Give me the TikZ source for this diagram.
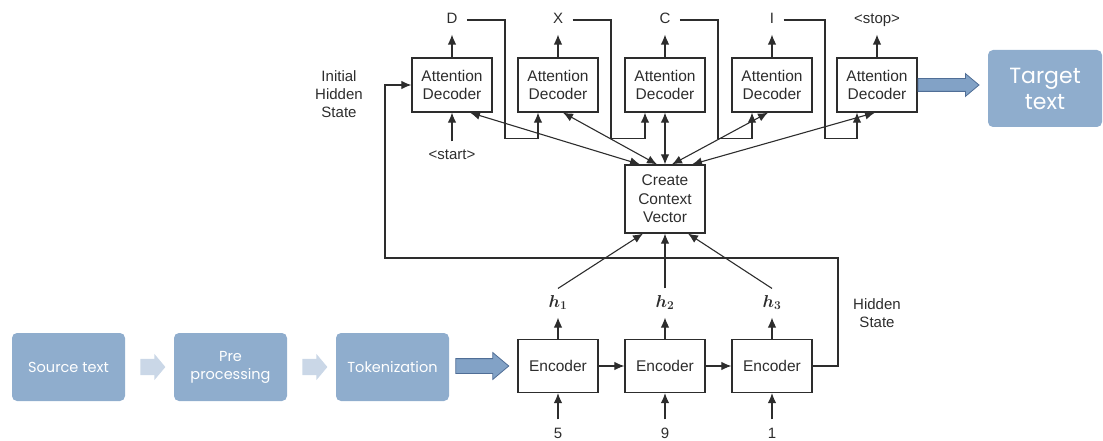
\documentclass[tikz,border=0pt]{standalone}
\usepackage{fontspec}
\setmainfont{Liberation Sans}
\newfontfamily\gothic{Poppins}
\usetikzlibrary{calc,shapes,arrows.meta}
\definecolor{boxblue}{RGB}{143,173,205}
\definecolor{paleblue}{RGB}{202,215,231}
\definecolor{arrowblue}{RGB}{130,162,198}
\definecolor{edgeblue}{RGB}{80,110,150}
\definecolor{ink}{RGB}{45,45,45}
\tikzset{
  >={Latex[length=10pt,width=8.5pt]},
  block/.style      = {shape=rectangle, draw=ink, line width=1.2pt,
                       minimum width=80pt, minimum height=54pt,
                       align=center, text=ink,
                       font=\fontsize{15.5}{18.5}\selectfont},
  txt/.style        = {align=center, text=ink,
                       font=\fontsize{15}{18}\selectfont},
  word/.style       = {txt, text height=11pt, text depth=3pt,
                       inner xsep=9pt, inner ysep=7pt},
  hstate/.style     = {word, font=\fontsize{17}{18}\selectfont\boldmath},
  stage/.style      = {shape=rectangle, rounded corners=5pt, fill=boxblue,
                       minimum width=113pt, minimum height=68pt,
                       text=white, align=center,
                       font=\gothic\fontsize{14.5}{18}\selectfont},
  bigarrow/.style   = {single arrow, draw=edgeblue, fill=arrowblue,
                       line width=0.8pt, inner sep=6pt,
                       single arrow head extend=5pt,
                       single arrow tip angle=80},
  stagearrow/.style = {single arrow, fill=paleblue, inner sep=7.5pt,
                       single arrow head extend=5pt,
                       single arrow tip angle=100,
                       minimum height=25pt}
}
\begin{document}
\begin{tikzpicture}[x=1pt, y=-1pt, ->, line width=1.1pt, draw=ink]
  \useasboundingbox (0,0) rectangle (1103,441);

  % source side
  \node[stage] (src) at (68.5,367)  {Source text};
  \node[stage] (pre) at (230.5,367) {Pre\\processing};
  \node[stage] (tok) at (392.5,367) {Tokenization};
  \node[stagearrow] (sa1) at ($(src.east)!0.5!(pre.west)$) {};
  \node[stagearrow] (sa2) at ($(pre.east)!0.5!(tok.west)$) {};

  % encoder
  \node[block, minimum height=53pt] (enc1) at (558,366) {Encoder};
  \node[block, minimum height=53pt] (enc2) at (665,366) {Encoder};
  \node[block, minimum height=53pt] (enc3) at (772,366) {Encoder};
  \foreach \k/\num in {1/5, 2/9, 3/1} {
    \node[hstate] (hv\k) at ($(enc\k)+(0,-63)$) {{$h_{\k}$}};
    \node[word] (inp\k) at ($(enc\k)+(0,68)$) {\num};
    \draw (inp\k.north) -- (enc\k.south);
    \draw (enc\k.north) -- (hv\k.south);
  }
  \draw (enc1.east) -- (enc2.west);
  \draw (enc2.east) -- (enc3.west);
  \node[bigarrow, minimum height=53pt, inner sep=7pt, single arrow head extend=6pt,
        anchor=tip] (inarrow) at ([xshift=-8pt]enc1.west) {};

  % context
  \node[block, minimum height=68pt] (ctx) at (665,199) {Create\\Context\\Vector};
  \draw (hv1.north) -- ([xshift=-22pt]ctx.south);
  \draw (hv2.north) -- (ctx.south);
  \draw (hv3.north) -- ([xshift=23pt]ctx.south);

  % decoder
  \foreach \k/\xx/\o in {1/452/D, 2/558/X, 3/665/C, 4/772/I, 5/877/{<stop>}} {
    \node[block] (dec\k) at (\xx,85) {Attention\\Decoder};
    \node[word] (out\k) at (\xx,20) {\o};
    \draw (dec\k.north) -- (out\k.south);
  }
  \foreach \k/\j in {1/2, 2/3, 3/4, 4/5}
    \draw (out\k.east) -| ($(dec\k.south)+(53,26)$) -| ([xshift=-20pt]dec\j.south);
  \foreach \k/\a/\b in {1/18/-25, 2/5/-8, 3/0/0, 4/-4/7, 5/-2/27}
    \draw[<->] ([xshift=\a pt]dec\k.south) -- ([xshift=\b pt]ctx.north);

  \node[word] (start) at (452,156) {<start>};
  \draw (start.north) -- (dec1.south);

  % hidden state
  \coordinate (hs) at (838,258);
  \coordinate (ih) at (385,258);
  \draw (enc3.east) -| (hs) -- (ih) |- (dec1.west);
  \node[txt] (init) at (339,94)  {Initial\\Hidden\\State};
  \node[txt] (hid)  at (877,313) {Hidden\\State};

  % target
  \node[stage, minimum width=114pt, minimum height=77pt,
        font=\gothic\fontsize{22}{26}\selectfont] (tgt) at (1045,88.5) {Target\\text};
  \node[bigarrow, minimum height=61pt, anchor=tail] (outarrow) at (dec5.east) {};
\end{tikzpicture}
\end{document}
